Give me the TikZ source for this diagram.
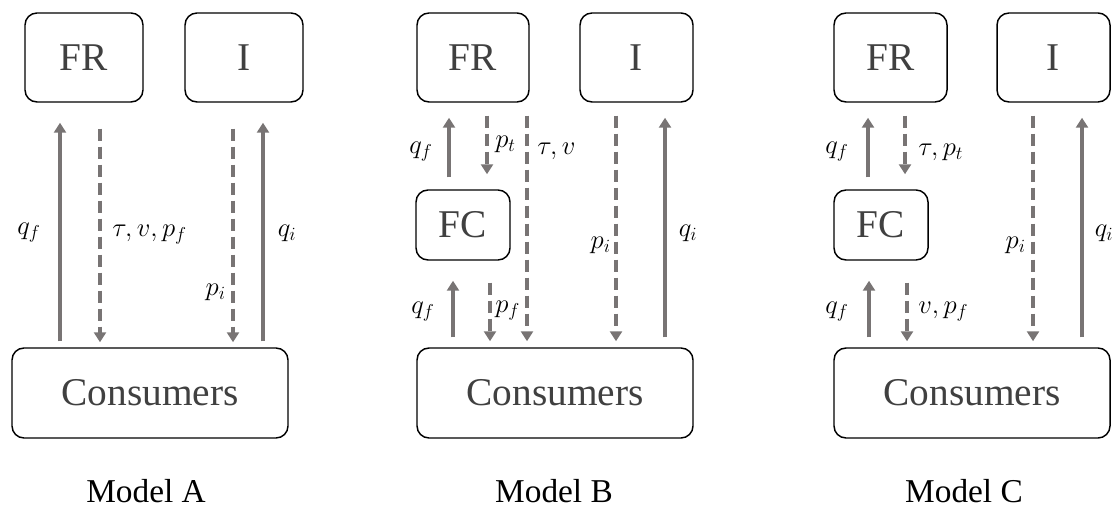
\RequirePackage{fix-cm}
\documentclass[tikz,border=0pt]{standalone}
\usepackage{fontspec}
\setmainfont{Liberation Serif}
\usetikzlibrary{arrows.meta}
\definecolor{arrgray}{RGB}{120,116,116}
\definecolor{boxtext}{RGB}{64,64,64}
\tikzset{
  box/.style={draw=black, line width=1.1pt, rounded corners=9pt, inner sep=0pt,
    text=boxtext, font=\fontsize{29.5}{34}\selectfont},
  sarr/.style={draw=arrgray, line width=2.6pt, -{Triangle[length=7.5pt,width=9pt]}, arrgray},
  darr/.style={sarr, dash pattern=on 9pt off 4.5pt},
  lab/.style={inner sep=0pt, font=\fontsize{20}{24}\selectfont},
  model/.style={inner sep=0pt, font=\fontsize{25}{30}\selectfont}
}
\begin{document}
\begin{tikzpicture}[x=0.75pt,y=-0.75pt]
\useasboundingbox (0,0) rectangle (1119,509);
% ---------------- Model A ----------------
\node[box, minimum width=88.5pt, minimum height=66.75pt] (aFR) at (84,57.5) {FR};
\node[box, minimum width=88.5pt, minimum height=66.75pt] (aI) at (244,57.5) {I};
\node[box, minimum width=207pt, minimum height=67.5pt] (aC) at (150,393) {Consumers};
\coordinate (a1) at (60,0);
\coordinate (a2) at (100,0);
\coordinate (a3) at (233,0);
\coordinate (a4) at (263,0);
\draw[sarr, shorten <=4.5pt, shorten >=15pt] (aC.north -| a1) -- (aFR.south -| a1);
\draw[darr, shorten <=19.5pt, shorten >=3.75pt] (aFR.south -| a2) -- (aC.north -| a2);
\draw[darr, shorten <=19.5pt, shorten >=3.75pt] (aI.south -| a3) -- (aC.north -| a3);
\draw[sarr, shorten <=4.5pt, shorten >=15pt] (aC.north -| a4) -- (aI.south -| a4);
\node[lab] (aL1) at (29,233) {$q_f$};
\node[lab, anchor=west] (aL2) at (112,235) {$\tau, v, p_f$};
\node[lab, anchor=east] (aL3) at (226,292) {$p_i$};
\node[lab] (aL4) at (287,233) {$q_i$};
\node[model] (aM) at (146,491) {Model A};
% ---------------- Model B ----------------
\node[box, minimum width=84pt, minimum height=66.75pt] (bFR) at (473,57.5) {FR};
\node[box, minimum width=84.75pt, minimum height=66.75pt] (bI) at (636.5,57.5) {I};
\node[box, minimum width=70.5pt, minimum height=52.5pt] (bFC) at (463,225) {FC};
\node[box, minimum width=207pt, minimum height=67.5pt] (bC) at (555,393) {Consumers};
\coordinate (b1) at (449,0);
\coordinate (b2) at (487,0);
\coordinate (b3) at (527,0);
\coordinate (b4) at (616,0);
\coordinate (b5) at (665,0);
\coordinate (b6) at (453,0);
\coordinate (b7) at (490,0);
\draw[sarr, shorten <=9pt, shorten >=11.25pt] (bFC.north -| b1) -- (bFR.south -| b1);
\draw[darr, shorten <=9.75pt, shorten >=11.25pt] (bFR.south -| b2) -- (bFC.north -| b2);
\draw[darr, shorten <=9.75pt, shorten >=4.5pt] (bFR.south -| b3) -- (bC.north -| b3);
\draw[darr, shorten <=9.75pt, shorten >=4.5pt] (bI.south -| b4) -- (bC.north -| b4);
\draw[sarr, shorten <=7.5pt, shorten >=11.25pt] (bC.north -| b5) -- (bI.south -| b5);
\draw[sarr, shorten <=7.5pt, shorten >=15pt] (bC.north -| b6) -- (bFC.south -| b6);
\draw[darr, shorten <=16.5pt, shorten >=4.5pt] (bFC.south -| b7) -- (bC.north -| b7);
\node[lab] (bL1) at (421,152) {$q_f$};
\node[lab, anchor=west] (bL2) at (495,144) {$p_t$};
\node[lab, anchor=west] (bL3) at (537,151) {$\tau, v$};
\node[lab, anchor=east] (bL4) at (611,245) {$p_i$};
\node[lab] (bL5) at (688,233) {$q_i$};
\node[lab] (bL6) at (423,312) {$q_f$};
\node[lab, anchor=west] (bL7) at (495,311) {$p_f$};
\node[model] (bM) at (554,491) {Model B};
% ---------------- Model C ----------------
\node[box, minimum width=84.75pt, minimum height=66.75pt] (cFR) at (890.5,57.5) {FR};
\node[box, minimum width=84.75pt, minimum height=66.75pt] (cI) at (1053.5,57.5) {I};
\node[box, minimum width=70.5pt, minimum height=52.5pt] (cFC) at (881,225) {FC};
\node[box, minimum width=207pt, minimum height=67.5pt] (cC) at (972,393) {Consumers};
\coordinate (c1) at (868,0);
\coordinate (c2) at (905,0);
\coordinate (c3) at (1033,0);
\coordinate (c4) at (1082,0);
\coordinate (c5) at (869,0);
\coordinate (c6) at (907,0);
\draw[sarr, shorten <=9pt, shorten >=11.25pt] (cFC.north -| c1) -- (cFR.south -| c1);
\draw[darr, shorten <=9.75pt, shorten >=11.25pt] (cFR.south -| c2) -- (cFC.north -| c2);
\draw[darr, shorten <=9.75pt, shorten >=4.5pt] (cI.south -| c3) -- (cC.north -| c3);
\draw[sarr, shorten <=7.5pt, shorten >=11.25pt] (cC.north -| c4) -- (cI.south -| c4);
\draw[sarr, shorten <=7.5pt, shorten >=15pt] (cC.north -| c5) -- (cFC.south -| c5);
\draw[darr, shorten <=16.5pt, shorten >=4.5pt] (cFC.south -| c6) -- (cC.north -| c6);
\node[lab] (cL1) at (837,152) {$q_f$};
\node[lab, anchor=west] (cL2) at (918,152) {$\tau, p_t$};
\node[lab, anchor=east] (cL3) at (1026,245) {$p_i$};
\node[lab] (cL4) at (1104,233) {$q_i$};
\node[lab] (cL5) at (837,312) {$q_f$};
\node[lab, anchor=west] (cL6) at (918,312) {$v, p_f$};
\node[model] (cM) at (964,491) {Model C};
\end{tikzpicture}
\end{document}
